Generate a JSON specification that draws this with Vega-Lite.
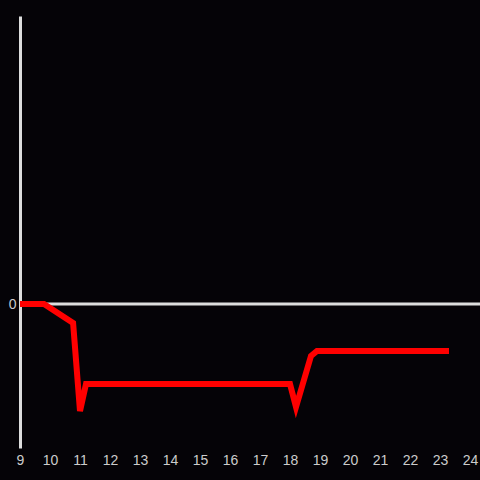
{
  "$schema": "https://vega.github.io/schema/vega-lite/v6.json",
  "width": 460,
  "height": 432,
  "autosize": {"type": "none"},
  "padding": {"left": 20, "top": 16, "right": 0, "bottom": 32},
  "background": "#050307",
  "config": {"view": {"stroke": null}},
  "data": {"values": [
    {"x": 9.0, "y": 0},
    {"x": 9.8, "y": 0},
    {"x": 10.77, "y": -0.19},
    {"x": 11.0, "y": -1.07},
    {"x": 11.2, "y": -0.8},
    {"x": 18.0, "y": -0.8},
    {"x": 18.2, "y": -1.03},
    {"x": 18.7, "y": -0.52},
    {"x": 18.9, "y": -0.47},
    {"x": 23.3, "y": -0.47}
  ]},
  "layer": [
    {
      "data": {"values": [{"z": 0}]},
      "mark": {"type": "rule", "color": "#dddddd", "strokeWidth": 3},
      "encoding": {"y": {"field": "z", "type": "quantitative", "scale": {"domain": [-1.44, 2.88]}}}
    },
    {
      "mark": {"type": "line", "color": "#ff0000", "strokeWidth": 6, "clip": false},
      "encoding": {
        "x": {"field": "x", "type": "quantitative", "scale": {"domain": [9, 24.3333], "nice": false, "zero": false},
          "axis": {"title": null, "domain": false, "ticks": false, "grid": false, "values": [9,10,11,12,13,14,15,16,17,18,19,20,21,22,23,24], "format": "d", "labelColor": "#cccccc", "labelFontSize": 14, "labelFont": "Liberation Sans", "labelPadding": 5, "labelFlush": false, "labelOverlap": false}},
        "y": {"field": "y", "type": "quantitative", "scale": {"domain": [-1.44, 2.88], "nice": false, "zero": false},
          "axis": {"title": null, "domain": true, "domainColor": "#dddddd", "domainWidth": 3, "ticks": false, "grid": false, "values": [0], "format": "d", "labelColor": "#cccccc", "labelFontSize": 14, "labelFont": "Liberation Sans", "labelPadding": 4}}
      }
    }
  ]
}
